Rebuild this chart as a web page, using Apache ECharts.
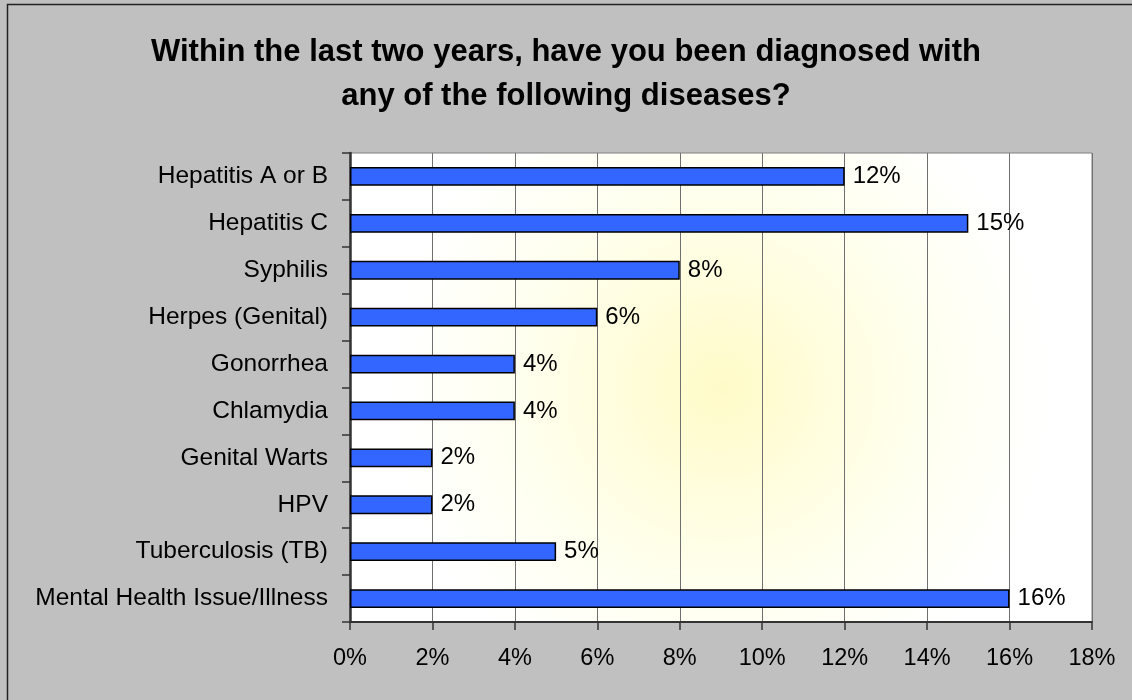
<!DOCTYPE html>
<html>
<head>
<meta charset="utf-8">
<script src="https://cdn.jsdelivr.net/npm/echarts@6/dist/echarts.min.js"></script>
<style>
html,body{margin:0;padding:0;background:#C0C0C0;}
#main{width:1132px;height:700px;}
</style>
</head>
<body>
<div id="main"></div>
<script>
// categories top to bottom
var categories = [
	"Hepatitis A or B",
	"Hepatitis C",
	"Syphilis",
	"Herpes (Genital)",
	"Gonorrhea",
	"Chlamydia",
	"Genital Warts",
	"HPV",
	"Tuberculosis (TB)",
	"Mental Health Issue/Illness"
];
var percents = [12, 15, 8, 6, 4, 4, 2, 2, 5, 16];
var titleLines = [
	"Within the last two years, have you been diagnosed with",
	"any of the following diseases?"
];

var chart = echarts.init(document.getElementById('main'));
chart.setOption({
	backgroundColor: '#C0C0C0',
	animation: false,
	title: {
		text: titleLines.join('\n'),
		left: 'center',
		top: 25,
		textStyle: {
			fontFamily: 'Liberation Sans',
			fontSize: 31,
			fontWeight: 'bold',
			color: '#000',
			lineHeight: 44
		}
	},
	graphic: [{
		type: 'rect',
		silent: true,
		z: -10,
		shape: {x: 7.5, y: 4.5, width: 1300, height: 900},
		style: {fill: 'none', stroke: '#222', lineWidth: 1.5}
	}],
	grid: {
		left: 350,
		right: 40,
		top: 153,
		bottom: 78,
		show: true,
		borderWidth: 1,
		borderColor: '#808080',
		backgroundColor: new echarts.graphic.RadialGradient(0.5, 0.5, 0.7, [
			{offset: 0, color: '#FFFBC8'},
			{offset: 0.6, color: '#FFFFEE'},
			{offset: 1, color: '#FFFFFF'}
		])
	},
	xAxis: {
		type: 'value',
		min: 0,
		max: 18,
		interval: 2,
		axisLine: {show: true, lineStyle: {color: '#333', width: 2}},
		axisTick: {show: true, length: 8, lineStyle: {color: '#333', width: 1.5}},
		splitLine: {show: true, lineStyle: {color: '#707070', width: 1}},
		axisLabel: {
			margin: 25,
			fontFamily: 'Liberation Sans',
			fontSize: 23.5,
			color: '#000',
			formatter: '{value}%'
		}
	},
	yAxis: {
		type: 'category',
		inverse: true,
		data: categories,
		axisLine: {show: true, lineStyle: {color: '#333', width: 2.5}},
		axisTick: {show: true, length: 8, lineStyle: {color: '#333', width: 1.5}},
		axisLabel: {
			margin: 22,
			fontFamily: 'Liberation Sans',
			fontSize: 24.5,
			color: '#000'
		}
	},
	series: [{
		type: 'bar',
		data: percents,
		barCategoryGap: '60%',
		itemStyle: {
			color: '#3366FF',
			borderColor: '#000',
			borderWidth: 1.5
		},
		label: {
			show: true,
			position: 'right',
			distance: 8,
			fontFamily: 'Liberation Sans',
			fontSize: 24,
			color: '#000',
			formatter: '{c}%'
		}
	}]
});
</script>
</body>
</html>
